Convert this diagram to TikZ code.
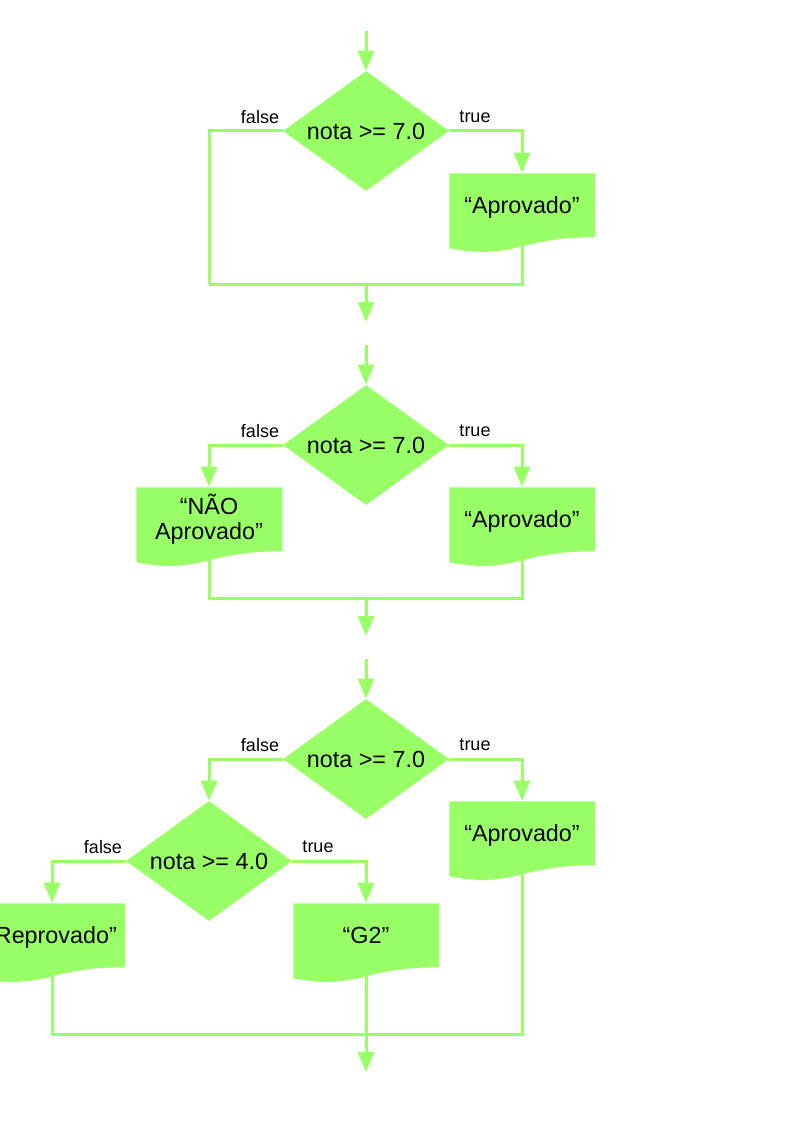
\documentclass[tikz,border=0pt]{standalone}
\usepackage{fontspec}
\setmainfont{Liberation Sans}
\usetikzlibrary{arrows.meta}
\usetikzlibrary{shapes}
\usetikzlibrary{backgrounds}
\definecolor{flowgreen}{HTML}{99FF66}
\tikzstyle{decision}=[diamond, aspect=1.383, fill=flowgreen, inner sep=0pt, minimum width=124.5pt, minimum height=90pt, font={\fontsize{17.5}{20}\selectfont}]
\tikzstyle{doc}=[rectangle, inner sep=0pt, minimum width=109.5pt, minimum height=48pt, align=center, text depth=0pt, font={\fontsize{17.5}{18.75}\selectfont}]
\tikzstyle{lbl}=[inner sep=0pt, font={\fontsize{13.5}{16}\selectfont}]
\tikzstyle{wire}=[draw=flowgreen, line width=2.25pt]
\tikzstyle{link}=[wire, -{Triangle[length=15pt, width=12pt]}]
% green paper shape behind a doc node
\newcommand{\docfill}[1]{%
  \begin{pgfonlayer}{background}
    \fill[flowgreen, shift={(#1.south east)}] (0,0) .. controls (-30,0) and (-50,3) .. (-73,9)
      .. controls (-96,15) and (-116,17) .. (-146,11) |- (0,-64) -- cycle;
  \end{pgfonlayer}}

\begin{document}
\begin{tikzpicture}[x=0.75pt, y=-0.75pt]

    \useasboundingbox (0,0) rectangle (794,1123);
    \clip (0,0) rectangle (794,1123);

    % if nota >= 7.0 then "Aprovado"
    \coordinate (in1) at (366,31);
    \node[decision] (d1) at (366,131) {nota >= 7.0};
    \node[lbl] (f1) at (260,117) {false};
    \node[lbl] (t1) at (475,117) {true};
    \node[doc] (a1) at (522,205) {“Aprovado”};
    \docfill{a1}
    \coordinate (m1) at (209,284);
    \coordinate (j1) at (366,284);
    \coordinate (out1) at (366,322);

    \draw[link] (in1) -- (d1.north);
    \draw[link] (d1.east) -| (a1.north);
    \draw[wire] (d1.west) -| (m1);
    \draw[wire] (a1.south) |- (m1);
    \draw[link] (j1) -- (out1);

    % if / else
    \coordinate (in2) at (366,345);
    \node[decision] (d2) at (366,445) {nota >= 7.0};
    \node[lbl] (f2) at (260,431) {false};
    \node[lbl] (t2) at (475,431) {true};
    \node[doc, text depth=3pt] (n2) at (209,519) {“NÃO\\Aprovado”};
    \node[doc] (a2) at (522,519) {“Aprovado”};
    \docfill{n2}
    \docfill{a2}
    \coordinate (j2) at (366,598);
    \coordinate (out2) at (366,636);

    \draw[link] (in2) -- (d2.north);
    \draw[link] (d2.west) -| (n2.north);
    \draw[link] (d2.east) -| (a2.north);
    \draw[wire] (n2.south) |- (j2) -| (a2.south);
    \draw[link] (j2) -- (out2);

    % nested if
    \coordinate (in3) at (366,659);
    \node[decision] (d3) at (366,759) {nota >= 7.0};
    \node[lbl] (f3) at (260,745) {false};
    \node[lbl] (t3) at (475,745) {true};
    \node[doc] (a3) at (522,833) {“Aprovado”};
    \node[decision] (d4) at (209,861) {nota >= 4.0};
    \node[lbl] (f4) at (103,847) {false};
    \node[lbl] (t4) at (318,847) {true};
    \node[doc] (r3) at (52,935) {“Reprovado”};
    \node[doc] (g3) at (366,935) {“G2”};
    \docfill{a3}
    \docfill{r3}
    \docfill{g3}
    \coordinate (j3) at (366,1034);
    \coordinate (out3) at (366,1072);

    \draw[link] (in3) -- (d3.north);
    \draw[link] (d3.west) -| (d4.north);
    \draw[link] (d3.east) -| (a3.north);
    \draw[link] (d4.west) -| (r3.north);
    \draw[link] (d4.east) -| (g3.north);
    \draw[wire] (r3.south) |- (j3) -| (a3.south);
    \draw[link] (g3.south) -- (out3);

\end{tikzpicture}
\end{document}
